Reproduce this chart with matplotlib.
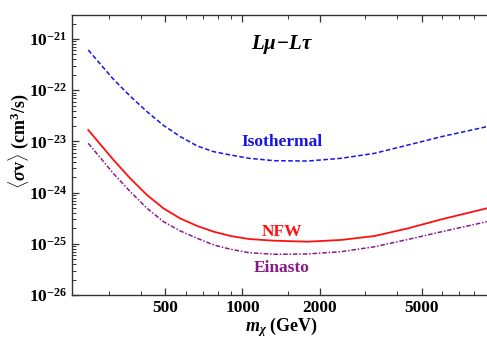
import matplotlib
matplotlib.use("Agg")
import matplotlib.pyplot as plt
from matplotlib.ticker import FixedLocator, FuncFormatter, NullFormatter
import numpy as np

# Dark matter mass (GeV)
mass = [250, 313, 365, 424, 492, 572, 666, 773, 899, 1061, 1330, 1798,
        2428, 3281, 4433, 5986, 8990]
# Upper limits on <sigma v> (cm^3/s) per halo profile
isothermal = [6.1e-22, 1.65e-22, 7.6e-23, 3.8e-23, 2.05e-23, 1.24e-23,
              8.13e-24, 6.29e-24, 5.42e-24, 4.68e-24, 4.20e-24, 4.14e-24,
              4.68e-24, 5.86e-24, 8.51e-24, 1.24e-23, 1.94e-23]
nfw = [1.67e-23, 4.4e-24, 1.88e-24, 8.97e-25, 4.90e-25, 3.12e-25,
       2.23e-25, 1.72e-25, 1.42e-25, 1.24e-25, 1.15e-25, 1.10e-25,
       1.19e-25, 1.42e-25, 2.01e-25, 3.01e-25, 4.93e-25]
einasto = [9.18e-24, 2.38e-24, 1.04e-24, 4.93e-25, 2.70e-25, 1.78e-25,
           1.28e-25, 9.48e-26, 7.82e-26, 6.70e-26, 6.24e-26, 6.33e-26,
           7.02e-26, 8.77e-26, 1.22e-25, 1.72e-25, 2.70e-25]

x_major = [500, 1000, 2000, 5000]
x_minor = [300, 400, 600, 700, 800, 900, 1500, 3000, 4000, 6000, 7000, 8000, 9000]
y_major = [1e-26, 1e-25, 1e-24, 1e-23, 1e-22, 1e-21]

plt.rcParams['mathtext.fontset'] = 'custom'
plt.rcParams['mathtext.rm'] = 'Liberation Serif:bold'
plt.rcParams['mathtext.bf'] = 'Liberation Serif:bold'
plt.rcParams['mathtext.it'] = 'Liberation Serif:italic:bold'
plt.rcParams['font.family'] = ['Liberation Serif', 'DejaVu Serif']
plt.rcParams['font.weight'] = 'bold'

fig = plt.figure(figsize=(4.87, 3.38), dpi=100)
ax = fig.add_axes([72/487, 1 - 295/338, 418/487, (295 - 14.7)/338])

ax.plot(mass, isothermal, color='#1515e6', lw=1.1, ls=(0, (3, 1.6)))
ax.plot(mass, nfw, color='#ff1010', lw=1.3, ls='-')
ax.plot(mass, einasto, color='#8a1a8a', lw=1.1, ls=(0, (3, 1.2, 1, 1.2)))

ax.set_xscale('log')
ax.set_yscale('log')
ax.set_xlim(216, 9250)
ax.set_ylim(1e-26, 10**(-20.525))

ax.xaxis.set_major_locator(FixedLocator(x_major))
ax.xaxis.set_minor_locator(FixedLocator(x_minor))
ax.xaxis.set_major_formatter(FuncFormatter(lambda v, p: f"{int(v)}"))
ax.xaxis.set_minor_formatter(NullFormatter())

ax.yaxis.set_major_locator(FixedLocator(y_major))
y_minor = [k * 10.0**e for e in range(-26, -20) for k in range(2, 10)]
ax.yaxis.set_minor_locator(FixedLocator(y_minor))
ax.yaxis.set_major_formatter(FuncFormatter(
    lambda v, p: r"$\mathbf{10^{%d}}$" % int(round(np.log10(v)))))
ax.yaxis.set_minor_formatter(NullFormatter())

ax.tick_params(which='both', direction='in', top=True, right=False,
               colors='#333333', labelcolor='black', labelsize=12.5)
ax.tick_params(which='major', length=5, width=0.9)
ax.tick_params(which='minor', length=2.8, width=0.7)
for side in ['left', 'top', 'bottom']:
    ax.spines[side].set_color('#333333')
    ax.spines[side].set_linewidth(1.0)
ax.spines['right'].set_visible(False)

for lbl in ax.get_xticklabels() + ax.get_yticklabels():
    lbl.set_fontweight('bold')

ax.set_xlabel(r"$m_{\chi}$ (GeV)", fontsize=13, fontweight='bold')
ax.xaxis.set_label_coords(0.502, -0.07)
ax.set_ylabel(r"$\langle\sigma\mathrm{v}\rangle$ (cm$^3$/s)", fontsize=13,
              fontweight='bold')
ax.yaxis.set_label_coords(-0.098, 0.55)

ax.text(0.502, 0.892, r"$L\mu\!-\!L\tau$", fontsize=15,
        ha='center', va='center', transform=ax.transAxes)
ax.text(0.502, 0.546, "Isothermal", color='#1515e6', fontsize=12.5,
        fontweight='bold', ha='center', va='center', transform=ax.transAxes)
ax.text(0.502, 0.225, "NFW", color='#ff1010', fontsize=12.5,
        fontweight='bold', ha='center', va='center', transform=ax.transAxes)
ax.text(0.502, 0.096, "Einasto", color='#8a1a8a', fontsize=12.5,
        fontweight='bold', ha='center', va='center', transform=ax.transAxes)

fig.savefig("out.png", dpi=100)
